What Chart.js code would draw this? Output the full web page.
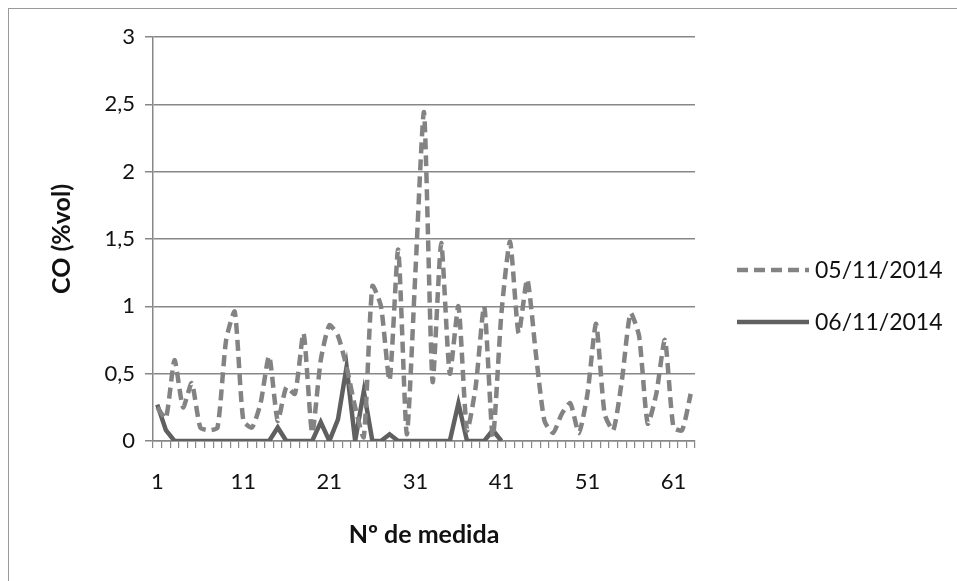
<!DOCTYPE html>
<html>
<head>
<meta charset="utf-8">
<script src="https://cdn.jsdelivr.net/npm/chart.js@4.4.1/dist/chart.umd.min.js"></script>
<style>
  html, body { margin: 0; padding: 0; background: #fff; }
  #wrap { position: relative; width: 957px; height: 581px; overflow: hidden; }
  #frame { position: absolute; left: 8px; top: 8px; width: 960px; height: 600px;
           border-left: 1px solid #9a9a9a; border-top: 1px solid #9a9a9a; }
  #c { position: absolute; left: 0; top: 0; }
</style>
</head>
<body>
<div id="wrap">
  <div id="frame"></div>
  <canvas id="c" width="957" height="581"></canvas>
</div>
<script>
// ---- data ----
const categories = [1,2,3,4,5,6,7,8,9,10,11,12,13,14,15,16,17,18,19,20,
  21,22,23,24,25,26,27,28,29,30,31,32,33,34,35,36,37,38,39,40,
  41,42,43,44,45,46,47,48,49,50,51,52,53,54,55,56,57,58,59,60,61,62,63];

const seriesNames = ['05/11/2014', '06/11/2014'];

const co_05_11_2014 = [0.25,0.17,0.6,0.25,0.43,0.1,0.08,0.1,0.75,0.96,
  0.15,0.1,0.28,0.63,0.15,0.4,0.35,0.8,0.06,0.6,
  0.86,0.78,0.55,0.25,0.03,1.15,1.0,0.45,1.42,0.05,
  1.25,2.44,0.44,1.47,0.5,1.0,0.08,0.4,1.0,0.03,
  0.95,1.48,0.8,1.2,0.65,0.15,0.06,0.2,0.28,0.06,
  0.35,0.87,0.2,0.08,0.45,0.95,0.78,0.13,0.35,0.75,
  0.1,0.08,0.35];

const co_06_11_2014 = [0.27,0.08,0,0,0,0,0,0,0,0,
  0,0,0,0,0.1,0,0,0,0,0.14,
  0,0.16,0.55,0,0.37,0,0,0.05,0,0,
  0,0,0,0,0,0.28,0,0,0,0.08,
  0];

const yTicks = [0, 0.5, 1, 1.5, 2, 2.5, 3];
const xLabelEvery = 10;

// ---- chart ----
const FONT = 'Lato, "Open Sans", sans-serif';
const GRID = '#878787';

const sideLegend = {
  id: 'sideLegend',
  afterDraw(chart) {
    const ctx = chart.ctx;
    chart.data.datasets.forEach((ds, i) => {
      const y = 270 + i * 52;
      ctx.save();
      ctx.strokeStyle = ds.borderColor;
      ctx.lineWidth = ds.borderWidth;
      ctx.setLineDash(ds.borderDash || []);
      ctx.beginPath();
      ctx.moveTo(737, y);
      ctx.lineTo(809, y);
      ctx.stroke();
      ctx.setLineDash([]);
      ctx.fillStyle = '#111';
      ctx.font = '23px ' + FONT;
      ctx.textBaseline = 'middle';
      ctx.textAlign = 'left';
      ctx.fillText(ds.label, 815, y + 1);
      ctx.restore();
    });
  }
};

new Chart(document.getElementById('c'), {
  type: 'line',
  data: {
    labels: categories,
    datasets: [
      {
        label: seriesNames[0],
        data: co_05_11_2014,
        borderColor: '#838383',
        borderWidth: 4.5,
        borderDash: [11, 6],
        pointRadius: 0,
        tension: 0.2,
        fill: false
      },
      {
        label: seriesNames[1],
        data: co_06_11_2014,
        borderColor: '#606060',
        borderWidth: 4.5,
        pointRadius: 0,
        tension: 0,
        fill: false
      }
    ]
  },
  options: {
    responsive: false,
    animation: false,
    devicePixelRatio: 1,
    layout: { padding: { left: 0, right: 262, top: 37, bottom: 0 } },
    plugins: {
      legend: { display: false },
      tooltip: { enabled: false }
    },
    scales: {
      x: {
        type: 'category',
        offset: true,
        grid: { display: true, drawOnChartArea: false, drawTicks: true, tickLength: 7,
                offset: true, color: GRID, lineWidth: 1.2 },
        border: { display: true, color: GRID, width: 1.5 },
        ticks: {
          autoSkip: false, maxRotation: 0, minRotation: 0, padding: 21,
          color: '#111', font: { family: FONT, size: 22 },
          callback: function (value, index) {
            return index % xLabelEvery === 0 ? String(categories[index]) : '';
          }
        },
        title: { display: true, text: 'Nº de medida', color: '#111',
                 font: { family: FONT, size: 25, weight: 'bold' }, padding: { top: 0, bottom: 31 } },
        afterFit(scale) { scale.height = 140; }
      },
      y: {
        min: 0, max: 3,
        afterBuildTicks(scale) { scale.ticks = yTicks.map(v => ({ value: v })); },
        grid: { color: GRID, lineWidth: 1.5, drawTicks: true, tickLength: 8 },
        border: { display: true, color: GRID, width: 1.5 },
        ticks: {
          padding: 10, color: '#111', font: { family: FONT, size: 22 },
          callback: v => String(v).replace('.', ',')
        },
        title: { display: true, text: 'CO (%vol)', color: '#111',
                 font: { family: FONT, size: 25, weight: 'bold' }, padding: { top: 47, bottom: 0 } },
        afterFit(scale) { scale.width = 153; }
      }
    }
  },
  plugins: [sideLegend]
});
</script>
</body>
</html>
